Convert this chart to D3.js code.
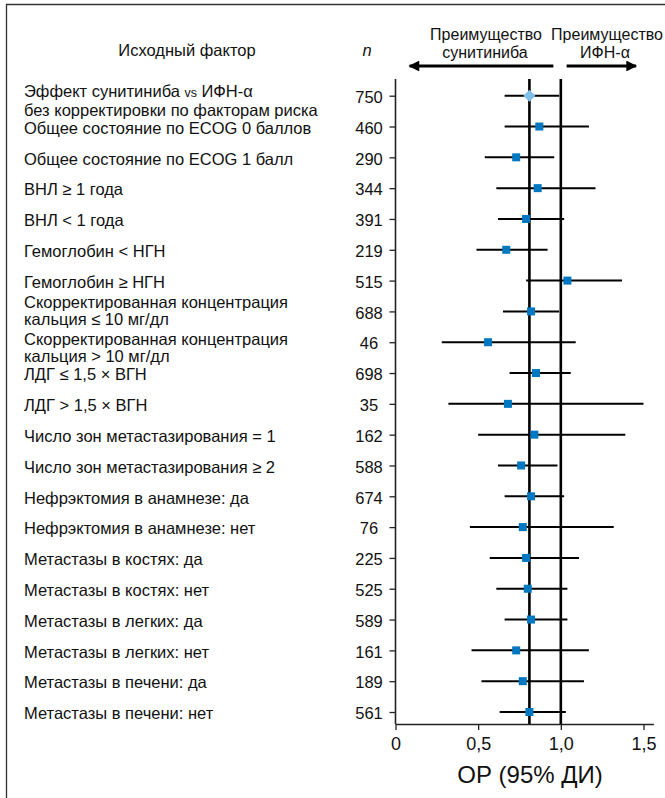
<!DOCTYPE html>
<html>
<head>
<meta charset="utf-8">
<script src="https://cdn.jsdelivr.net/npm/d3@7"></script>
<style>
  html, body { margin: 0; padding: 0; background: #fff; }
  svg { display: block; font-family: "Liberation Sans", Arial, sans-serif; }
</style>
</head>
<body>
<svg id="chart" width="665" height="798"></svg>
<script>
// Subgroup labels (one entry per row; multi-line labels split into lines)
const factors = [
  ["Эффект сунитиниба |vs| ИФН-α", "без корректировки по факторам риска"],
  ["Общее состояние по ECOG 0 баллов"],
  ["Общее состояние по ECOG 1 балл"],
  ["ВНЛ ≥ 1 года"],
  ["ВНЛ < 1 года"],
  ["Гемоглобин < НГН"],
  ["Гемоглобин ≥ НГН"],
  ["Скорректированная концентрация", "кальция ≤ 10 мг/дл"],
  ["Скорректированная концентрация", "кальция > 10 мг/дл"],
  ["ЛДГ ≤ 1,5 × ВГН"],
  ["ЛДГ > 1,5 × ВГН"],
  ["Число зон метастазирования = 1"],
  ["Число зон метастазирования ≥ 2"],
  ["Нефрэктомия в анамнезе: да"],
  ["Нефрэктомия в анамнезе: нет"],
  ["Метастазы в костях: да"],
  ["Метастазы в костях: нет"],
  ["Метастазы в легких: да"],
  ["Метастазы в легких: нет"],
  ["Метастазы в печени: да"],
  ["Метастазы в печени: нет"]
];
const nPatients = [750, 460, 290, 344, 391, 219, 515, 688, 46, 698, 35, 162, 588, 674, 76, 225, 525, 589, 161, 189, 561];
const hazardRatio = [0.81, 0.87, 0.73, 0.86, 0.79, 0.67, 1.04, 0.82, 0.56, 0.85, 0.68, 0.84, 0.76, 0.82, 0.77, 0.79, 0.80, 0.82, 0.73, 0.77, 0.81];
const ciLower    = [0.66, 0.66, 0.54, 0.61, 0.62, 0.49, 0.79, 0.65, 0.28, 0.69, 0.32, 0.50, 0.62, 0.66, 0.45, 0.57, 0.61, 0.66, 0.46, 0.52, 0.63];
const ciUpper    = [0.99, 1.17, 0.96, 1.21, 1.02, 0.92, 1.37, 0.99, 1.09, 1.06, 1.50, 1.39, 0.98, 1.02, 1.32, 1.11, 1.04, 1.04, 1.17, 1.14, 1.03];
const xTicks = [0, 0.5, 1.0, 1.5];
const xTickLabels = ["0", "0,5", "1,0", "1,5"];
const overallHR = 0.81;
const noEffect = 1.0;

const svg = d3.select("#chart");
const rows = d3.range(factors.length);

const x = d3.scaleLinear().domain([0, 1.56]).range([395.5, 653.4]);
const y = d3.scalePoint().domain(rows).range([95.7, 712]);

const plotTop = 79, plotBottom = 724;
const labelX = 24, nX = 369;
const fs = 16.5;

// frame
svg.append("path")
  .attr("d", `M6.5,798 V4.5 H665`)
  .attr("fill", "none").attr("stroke", "#333").attr("stroke-width", 1.3);

// column headers
svg.append("text").attr("x", 187).attr("y", 50).attr("dy", "0.35em").attr("text-anchor", "middle")
  .attr("font-size", fs).attr("fill", "#111").text("Исходный фактор");
svg.append("text").attr("x", 367).attr("y", 50).attr("dy", "0.35em").attr("text-anchor", "middle")
  .attr("font-size", fs).attr("font-style", "italic").attr("fill", "#111").text("n");

// direction headers with arrows
const hdr = svg.append("g").attr("font-size", 16).attr("fill", "#111").attr("text-anchor", "middle");
const hdrLeft = hdr.append("text").attr("x", 486).attr("y", 34).attr("dy", "0.35em");
hdrLeft.append("tspan").attr("x", 486).text("Преимущество");
hdrLeft.append("tspan").attr("x", 485).attr("dy", 18).text("сунитиниба");
const hdrRight = hdr.append("text").attr("x", 607).attr("y", 34).attr("dy", "0.35em");
hdrRight.append("tspan").attr("x", 607).text("Преимущество");
hdrRight.append("tspan").attr("x", 605).attr("dy", 18).text("ИФН-α");

const defs = svg.append("defs");
defs.append("marker").attr("id", "arrowHead")
  .attr("viewBox", "0 0 10 10").attr("refX", 9).attr("refY", 5)
  .attr("markerWidth", 4.6).attr("markerHeight", 3.6).attr("markerUnits", "strokeWidth")
  .attr("orient", "auto")
  .append("path").attr("d", "M0,0 L10,5 L0,10 Z").attr("fill", "#000");

const arrowY = 66;
svg.append("line").attr("x1", x(0.955)).attr("x2", x(0.085)).attr("y1", arrowY).attr("y2", arrowY)
  .attr("stroke", "#000").attr("stroke-width", 3).attr("marker-end", "url(#arrowHead)");
svg.append("line").attr("x1", x(1.035)).attr("x2", x(1.455)).attr("y1", arrowY).attr("y2", arrowY)
  .attr("stroke", "#000").attr("stroke-width", 3).attr("marker-end", "url(#arrowHead)");

// left axis: row ticks
const yAxis = d3.axisLeft(y).tickSize(6).tickFormat("");
const gy = svg.append("g").attr("transform", `translate(${x(0)},0)`).call(yAxis);
gy.select(".domain").remove();
gy.selectAll(".tick line").attr("stroke", "#222").attr("stroke-width", 1.3);
svg.append("line").attr("x1", x(0)).attr("x2", x(0)).attr("y1", plotTop).attr("y2", plotBottom)
  .attr("stroke", "#222").attr("stroke-width", 1.6);

// bottom axis
const xAxis = d3.axisBottom(x).tickValues(xTicks).tickSize(6).tickSizeOuter(0)
  .tickFormat((d, i) => xTickLabels[i]);
const gx = svg.append("g").attr("transform", `translate(0,${plotBottom})`).call(xAxis);
gx.select(".domain").attr("stroke", "#222").attr("stroke-width", 1.6);
gx.selectAll(".tick line").attr("stroke", "#222").attr("stroke-width", 1.3);
gx.selectAll(".tick text").attr("font-size", 18).attr("font-family", "Liberation Sans, Arial, sans-serif")
  .attr("fill", "#111").attr("y", 10).attr("dy", "0.9em");

svg.append("text").attr("x", 530).attr("y", 783).attr("text-anchor", "middle")
  .attr("font-size", 24).attr("fill", "#111").text("ОР (95% ДИ)");

// reference lines: overall HR and no-effect line
[overallHR, noEffect].forEach(v => {
  svg.append("line").attr("x1", x(v)).attr("x2", x(v)).attr("y1", plotTop).attr("y2", plotBottom)
    .attr("stroke", "#000").attr("stroke-width", 2.6);
});

// row labels; two-line labels are one text element with stacked tspans
const labelShift = {0: 4, 7: -2, 8: 3.8};
const lineGap = {0: 19, 7: 17, 8: 17};
const labels = svg.append("g").attr("font-size", fs).attr("fill", "#111");
rows.forEach(i => {
  const lines = factors[i];
  const cy = y(i) + 1.5;
  if (lines.length === 1) {
    labels.append("text").attr("x", labelX).attr("y", cy).attr("dy", "0.35em").text(lines[0]);
  } else {
    const gap = lineGap[i] || 17;
    const mid = cy + (labelShift[i] || 0);
    const t = labels.append("text").attr("x", labelX).attr("y", mid - gap / 2).attr("dy", "0.35em");
    lines.forEach((ln, k) => {
      const parts = ln.split("|");
      parts.forEach((p, j) => {
        const sp = t.append("tspan").text(p);
        if (j === 0 && k > 0) sp.attr("x", labelX).attr("dy", gap);
        if (j === 1) sp.attr("font-size", fs * 0.75);
      });
    });
  }
});

// n column
svg.append("g").attr("font-size", fs).attr("fill", "#111").attr("text-anchor", "middle")
  .selectAll("text").data(rows).join("text")
  .attr("x", nX).attr("y", i => y(i) + 1.5).attr("dy", "0.35em")
  .text(i => nPatients[i]);

// confidence intervals
svg.append("g").selectAll("line").data(rows).join("line")
  .attr("x1", i => x(ciLower[i])).attr("x2", i => x(ciUpper[i]))
  .attr("y1", i => y(i)).attr("y2", i => y(i))
  .attr("stroke", "#000").attr("stroke-width", 2);

// point estimates: diamond for unadjusted overall effect, squares for subgroups
const sq = 8;
svg.append("g").selectAll("rect").data(rows.filter(i => i > 0)).join("rect")
  .attr("x", i => x(hazardRatio[i]) - sq / 2).attr("y", i => y(i) - sq / 2)
  .attr("width", sq).attr("height", sq).attr("fill", "#0077c1");
const dSize = 6;
svg.append("path")
  .attr("d", () => {
    const cx = x(hazardRatio[0]), cy = y(0);
    return `M${cx},${cy - dSize} L${cx + dSize},${cy} L${cx},${cy + dSize} L${cx - dSize},${cy} Z`;
  })
  .attr("fill", "#80c0e8");
</script>
</body>
</html>
